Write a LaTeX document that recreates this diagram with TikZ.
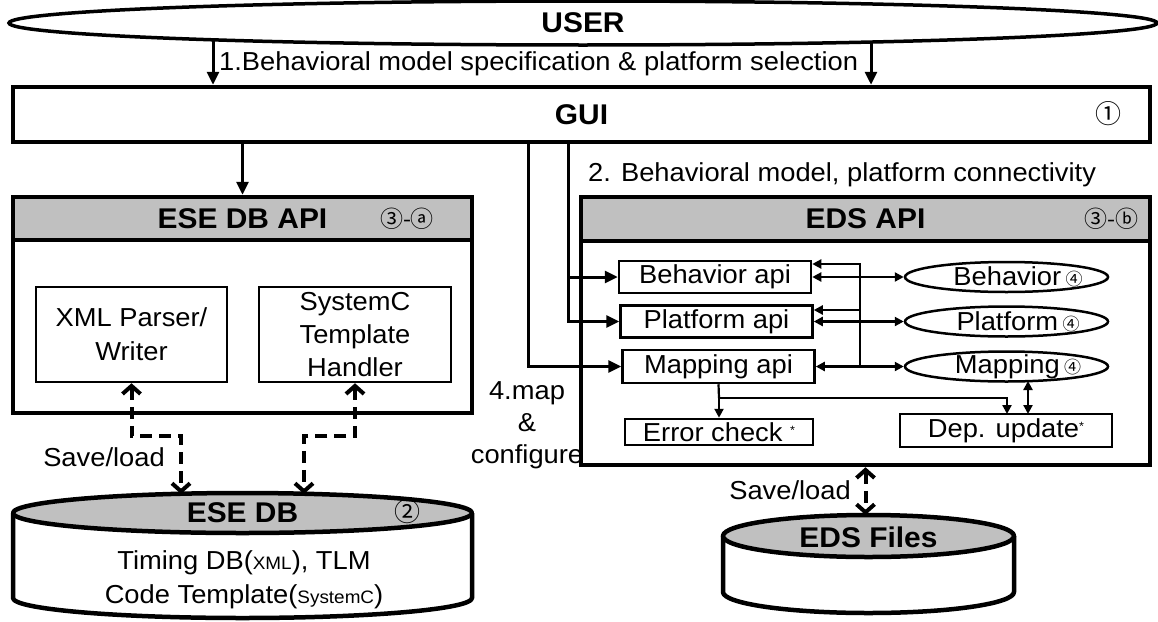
\documentclass[tikz,border=0pt]{standalone}
\usepackage{fontspec}
\setmainfont{Liberation Sans}[FakeStretch=1.05]
\newfontfamily\circnumfont{Noto Sans CJK KR}
\usetikzlibrary{shapes.geometric,arrows.meta,calc}
\definecolor{hdrgray}{RGB}{192,192,192}

\begin{document}
\begin{tikzpicture}[x=1pt,y=-1pt,
  >={Triangle[length=9pt,width=9pt]},
  body/.style={font=\fontsize{26}{30}\selectfont},
  title/.style={font=\fontsize{28.5}{32}\selectfont\bfseries},
  num/.style={font=\circnumfont\fontsize{23}{23}\selectfont, inner sep=0pt},
  bignum/.style={font=\circnumfont\fontsize{26}{26}\selectfont, inner sep=0pt},
  bigbox/.style={draw, line width=4.5pt, inner sep=0pt},
  hdr/.style={draw, line width=4.5pt, fill=hdrgray, inner sep=0pt, title},
  ibox/.style={draw, line width=2.5pt, inner sep=0pt, body},
  oval/.style={ellipse, draw, line width=2.5pt, inner sep=0pt},
  txt/.style={inner sep=0pt, body},
  garr/.style={line width=3pt, -{Triangle[length=13pt,width=12pt]}},
  iarr/.style={line width=2.2pt},
  darr/.style={line width=4pt, dash pattern=on 12pt off 7pt,
    {Straight Barb[length=8pt,width=18pt]}-{Straight Barb[length=8pt,width=18pt]}},
  cyl/.style={line width=4.5pt, line join=round},
]
\fill[white] (0,0) rectangle (1158,621);
\useasboundingbox (0,0) rectangle (1158,621);

% ---------- user and GUI ----------
\node[ellipse, draw, line width=3.5pt, minimum width=1148pt, minimum height=44pt,
      inner sep=0pt, title] (user) at (583,23) {USER};
\node[bigbox, minimum width=1137pt, minimum height=55pt, title] (gui) at (581.5,114.5) {GUI};
\node[bignum] (n1) at (1108,114) {①};

\coordinate (u1) at (213,41);
\coordinate (u2) at (871,42);
\draw[garr] (u1) -- (u1 |- gui.north);
\draw[garr] (u2) -- (u2 |- gui.north);
\node[txt, anchor=west] (lbl1) at (219,64) {1.Behavioral model specification \& platform selection};

% ---------- ESE DB API ----------
\node[bigbox, minimum width=459pt, minimum height=216pt] (esebox) at (242.5,305) {};
\node[hdr, minimum width=459pt, minimum height=43pt, anchor=north] (esehdr) at (esebox.north) {ESE DB API};
\node[num] (n3a) at (407,219) {③-ⓐ};
\draw[garr] (gui.south -| esebox.north) -- (esebox.north);

\node[ibox, minimum width=191pt, minimum height=95pt, align=center,
      font=\fontsize{26}{34}\selectfont] (xml) at (131.5,334.5) {XML Parser/\\Writer};
\node[ibox, minimum width=192pt, minimum height=95pt, align=center,
      font=\fontsize{26}{33}\selectfont] (sysc) at (355,334.5) {SystemC\\Template\\Handler};

% ---------- ESE DB cylinder ----------
\coordinate (eseTop) at (242.5,513);
\draw[cyl] (13,513) -- (13,598) arc[start angle=180,end angle=360,x radius=229.5pt,y radius=20pt] -- (472,513);
\draw[cyl, fill=hdrgray] (eseTop) ellipse [x radius=229.5pt, y radius=20pt];
\node[inner sep=0pt, title] (esedb) at (242.5,513) {ESE DB};
\node[bignum] (n2) at (407,512) {②};
\node[txt] (esel1) at (244,563) {Timing DB({\fontsize{18}{18}\selectfont XML}), TLM};
\node[txt] (esel2) at (244,597) {Code Template({\fontsize{18}{18}\selectfont SystemC})};

\coordinate (dbA) at (181,494);
\coordinate (dbB) at (304,494);
\draw[darr] (xml.south) -- ++(0,53) -| (dbA);
\draw[darr] (sysc.south) -- ++(0,53) -| (dbB);
\node[txt] (sl1) at (104,457) {Save/load};

% ---------- EDS API ----------
\node[txt, anchor=west] (lbl2) at (588,175) {2. Behavioral model, platform connectivity};
\node[txt, align=center, font=\fontsize{26}{32}\selectfont] (mapcfg) at (527,425) {4.map\\\&\\configure};

\node[bigbox, minimum width=569pt, minimum height=268pt] (edsbox) at (865.5,331) {};
\node[hdr, minimum width=569pt, minimum height=44pt, anchor=north] (edshdr) at (edsbox.north) {EDS API};
\node[num] (n3b) at (1111,219) {③-ⓑ};

\node[ibox, minimum width=192pt, minimum height=32pt] (bapi) at (715,277) {Behavior api};
\node[ibox, minimum width=192pt, minimum height=32pt] (papi) at (716.5,321.5) {Platform api};
\node[ibox, minimum width=192pt, minimum height=33pt] (mapi) at (718.5,366.5) {Mapping api};

\node[oval, minimum width=203pt, minimum height=30pt] (bell) at (1006.5,277) {};
\node[oval, minimum width=203pt, minimum height=30pt] (pell) at (1006.5,321.5) {};
\node[oval, minimum width=203pt, minimum height=30pt] (mell) at (1006.5,366.5) {};
\node[txt] (bt) at (1018,277) {Behavior\,{\circnumfont\fontsize{17}{17}\selectfont ④}};
\node[txt] (pt) at (1018,321.5) {Platform\,{\circnumfont\fontsize{17}{17}\selectfont ④}};
\node[txt] (mt) at (1018,366.5) {Mapping\,{\circnumfont\fontsize{17}{17}\selectfont ④}};

\node[ibox, minimum width=188pt, minimum height=26pt] (errck) at (719,432)
  {Error check {\fontsize{12}{12}\selectfont\raisebox{1.1ex}{*}}};
\node[ibox, minimum width=212pt, minimum height=33pt] (depup) at (1006,430.5)
  {Dep. update{\fontsize{12}{12}\selectfont\raisebox{1.1ex}{*}}};

% GUI feeds into the api blocks
\coordinate (tapA) at (528,142);
\coordinate (tapB) at (568,142);
\draw[garr] (tapB) |- (bapi.west);
\draw[garr] (tapB) |- (papi.west);
\draw[garr] (tapA) |- (mapi.west);

% api <-> model links and mapping bus
\draw[iarr,<->] (bapi.east) -- (bell.west);
\draw[iarr,<->] (papi.east) -- (pell.west);
\draw[iarr,<->] (mapi.east) -- (mell.west);
\coordinate (bus1) at (860,264);
\coordinate (bus2) at (860,310);
\coordinate (bus3) at (860,366.5);
\draw[iarr,->] (bus3) -- (bus1) -- (bus1 -| bapi.east);
\draw[iarr,->] (bus2) -- (bus2 -| papi.east);

% checks after mapping
\coordinate (split) at (719,398);
\coordinate (depA) at (1007,414);
\coordinate (depB) at (1028,414);
\coordinate (mellB) at (1028,381);
\draw[iarr] (mapi.south) -- (split);
\draw[iarr,->] (split) -- (errck.north);
\draw[iarr,->] (split) -| (depA);
\draw[iarr,<->] (mellB) -- (depB);

% ---------- EDS Files cylinder ----------
\coordinate (edsTop) at (868.5,536);
\draw[cyl] (723,536) -- (723,592) arc[start angle=180,end angle=360,x radius=145.5pt,y radius=21pt] -- (1014,536);
\draw[cyl, fill=hdrgray] (edsTop) ellipse [x radius=145.5pt, y radius=21pt];
\node[inner sep=0pt, title] (edsf) at (868.5,537) {EDS Files};
\coordinate (edsIn) at (865.5,515);
\draw[darr] (edsbox.south) -- (edsIn);
\node[txt] (sl2) at (790,490) {Save/load};
\end{tikzpicture}
\end{document}
